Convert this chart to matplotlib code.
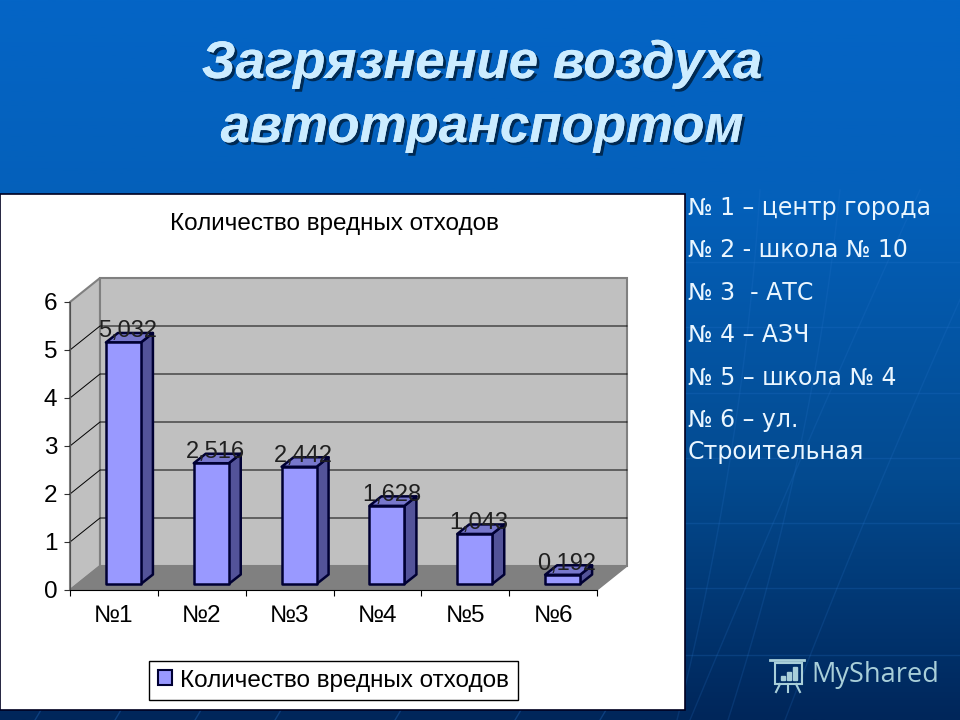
"""Slide with a pseudo-3D bar chart of air pollution by measuring point."""
import matplotlib
matplotlib.use("Agg")
import matplotlib.patheffects as pe
import matplotlib.pyplot as plt
import numpy as np
from matplotlib.colors import LinearSegmentedColormap
from matplotlib.patches import Patch, Polygon, Rectangle

W, H = 960, 720

categories = ["№1", "№2", "№3", "№4", "№5", "№6"]
values = [5.032, 2.516, 2.442, 1.628, 1.043, 0.192]
value_labels = ["5,032", "2,516", "2,442", "1,628", "1,043", "0,192"]
y_ticks = [0, 1, 2, 3, 4, 5, 6]
series_name = "Количество вредных отходов"
slide_title = ["Загрязнение воздуха", "автотранспортом"]
notes = ["№ 1 – центр города", "№ 2 - школа № 10", "№ 3  - АТС", "№ 4 – АЗЧ",
         "№ 5 – школа № 4", "№ 6 – ул.", "Строительная"]
note_baselines = [215, 257, 300, 342, 385, 427, 459]

FRONT, SIDE, TOP = "#9999FF", "#535399", "#7777CC"
EDGE = "#000033"
LOGO = "#A9CFD9"

fig = plt.figure(figsize=(W / 100, H / 100), dpi=100)

# slide background, in pixel coordinates
bg = fig.add_axes([0, 0, 1, 1])
bg.set_xlim(0, W)
bg.set_ylim(H, 0)
bg.axis("off")
cmap = LinearSegmentedColormap.from_list("slide", [
    (0, "#0465C6"), (200 / 720, "#0460BA"), (480 / 720, "#034A8F"), (1, "#00265A")])
bg.imshow(np.linspace(0, 1, 256)[:, None], cmap=cmap, extent=(0, W, H, 0), aspect="auto", zorder=0)

for yy in [262, 327, 393, 458, 523, 588, 655]:
    bg.plot([685, W], [yy, yy], color="#2A78D0", lw=1, alpha=0.22, zorder=1)
for x0, x1, x2 in [(920, 800, 690), (1010, 887, 785), (840, 813, 728), (760, 743, 677)]:
    t = np.linspace(0, 1, 40)
    xs = (1 - t) ** 2 * x0 + 2 * t * (1 - t) * x1 + t ** 2 * x2
    bg.plot(xs, 190 + t * 530, color="#2A78D0", lw=1, alpha=0.18, zorder=1)
for xb in [35, 115, 195, 275, 395, 515, 600]:
    bg.plot([xb + 6, xb], [710, 720], color="#2A78D0", lw=1, alpha=0.3, zorder=1)

bg.add_patch(Rectangle((0, 194), 685, 516, facecolor="white", edgecolor="#000020", lw=1.2, zorder=2))

for line, base in zip(slide_title, [78, 142]):
    bg.text(482, base, line, family="Liberation Sans", weight="bold", style="italic", size=38,
            color="#CCECFF", ha="center", va="baseline", zorder=3,
            path_effects=[pe.withSimplePatchShadow(offset=(2, -2), shadow_rgbFace="#002040", alpha=0.85),
                          pe.Normal()])

for line, base in zip(notes, note_baselines):
    bg.text(688, base, line, family="DejaVu Sans", size=17, color="#EAF6FF", va="baseline", zorder=3)

bg.text(334, 224, series_name, family="Liberation Sans", size=17.5, color="black",
        ha="center", va="center", zorder=3)

# watermark
bg.text(811, 675, "MyShared", family="Open Sans", size=19.5, color=LOGO, va="center", zorder=3)
bg.add_patch(Rectangle((775, 663), 27, 21, fill=False, edgecolor=LOGO, lw=1.5, zorder=3))
bg.plot([770, 804], [660, 660], color=LOGO, lw=2, zorder=3)
bg.plot([780, 776], [684, 692], color=LOGO, lw=1.5, zorder=3)
bg.plot([788, 788], [684, 692], color=LOGO, lw=1.5, zorder=3)
bg.plot([796, 800], [684, 692], color=LOGO, lw=1.5, zorder=3)
for bx, bh in zip([781, 787, 793], [4, 8, 13]):
    bg.add_patch(Rectangle((bx, 680 - bh), 4, bh, color=LOGO, zorder=3))

# chart: front plane of the plot box spans 70..597 px wide, y=0 at 590, y=6 at 302
ax = fig.add_axes([70 / W, 1 - 590 / H, 527 / W, 288 / H])
ax.patch.set_visible(False)
ax.set_xlim(0, len(categories))
ax.set_ylim(0, 6)

px_x = len(categories) / 527
px_y = 6 / 288
wall_dx, wall_dy = 30 * px_x, 24 * px_y
gap_dx, gap_dy = 9.5 * px_x, 6 * px_y
depth_dx, depth_dy = 12 * px_x, 9.5 * px_y
bar_w = 35 * px_x
n = len(categories)

ax.add_patch(Polygon([(0, 0), (wall_dx, wall_dy), (wall_dx, 6 + wall_dy), (0, 6)],
                     facecolor="#C0C0C0", edgecolor="#808080", lw=1.5, clip_on=False, zorder=1))
ax.add_patch(Rectangle((wall_dx, wall_dy), n, 6, facecolor="#C0C0C0", edgecolor="#808080",
                       lw=1.5, clip_on=False, zorder=1))
ax.add_patch(Polygon([(0, 0), (n, 0), (n + wall_dx, wall_dy), (wall_dx, wall_dy)],
                     facecolor="#808080", edgecolor="#808080", lw=1, clip_on=False, zorder=2))
for tick in y_ticks[1:-1]:
    ax.plot([0, wall_dx, n + wall_dx], [tick, tick + wall_dy, tick + wall_dy], color="black",
            lw=0.7, clip_on=False, zorder=2)

for i, (val, lab) in enumerate(zip(values, value_labels)):
    x0 = i + 0.5 - bar_w / 2 + gap_dx
    x1 = x0 + bar_w
    y0, y1 = gap_dy, val + gap_dy
    style = dict(edgecolor=EDGE, lw=1.8, joinstyle="round", clip_on=False, zorder=4)
    ax.add_patch(Polygon([(x1, y0), (x1 + depth_dx, y0 + depth_dy), (x1 + depth_dx, y1 + depth_dy), (x1, y1)],
                         facecolor=SIDE, **style))
    ax.add_patch(Polygon([(x0, y1), (x1, y1), (x1 + depth_dx, y1 + depth_dy), (x0 + depth_dx, y1 + depth_dy)],
                         facecolor=TOP, **style))
    ax.add_patch(Rectangle((x0, y0), bar_w, val, facecolor=FRONT, **style))
    ax.text((x0 + x1) / 2 + 4.5 * px_x, y1 + 11 * px_y, lab, family="Liberation Sans", size=17,
            color="#202020", ha="center", va="center", zorder=5, clip_on=False)

for side in ["top", "right"]:
    ax.spines[side].set_visible(False)
ax.spines["left"].set_color("#505050")
ax.spines["bottom"].set_color("black")
ax.set_xticks(np.arange(n + 1))
ax.set_xticklabels([])
ax.set_xticks(np.arange(n) + 0.5, categories, minor=True)
ax.tick_params(axis="x", which="minor", length=0, pad=11, labelsize=17.5, labelfontfamily="Liberation Sans")
ax.tick_params(axis="x", which="major", length=4, color="black")
ax.set_yticks(y_ticks)
ax.tick_params(axis="y", length=4, pad=5, labelsize=17.5, labelfontfamily="Liberation Sans", color="#303030")

fig.legend(handles=[Patch(facecolor=FRONT, edgecolor=EDGE, lw=1.5, label=series_name)],
           loc="center", bbox_to_anchor=(333.5 / W, 1 - 680.5 / H), fancybox=False, framealpha=1,
           edgecolor="black", facecolor="white", prop={"family": "Liberation Sans", "size": 17.5},
           handlelength=0.58, handleheight=0.58, handletextpad=0.35, borderpad=0.35)

fig.savefig("out.png", dpi=100)
